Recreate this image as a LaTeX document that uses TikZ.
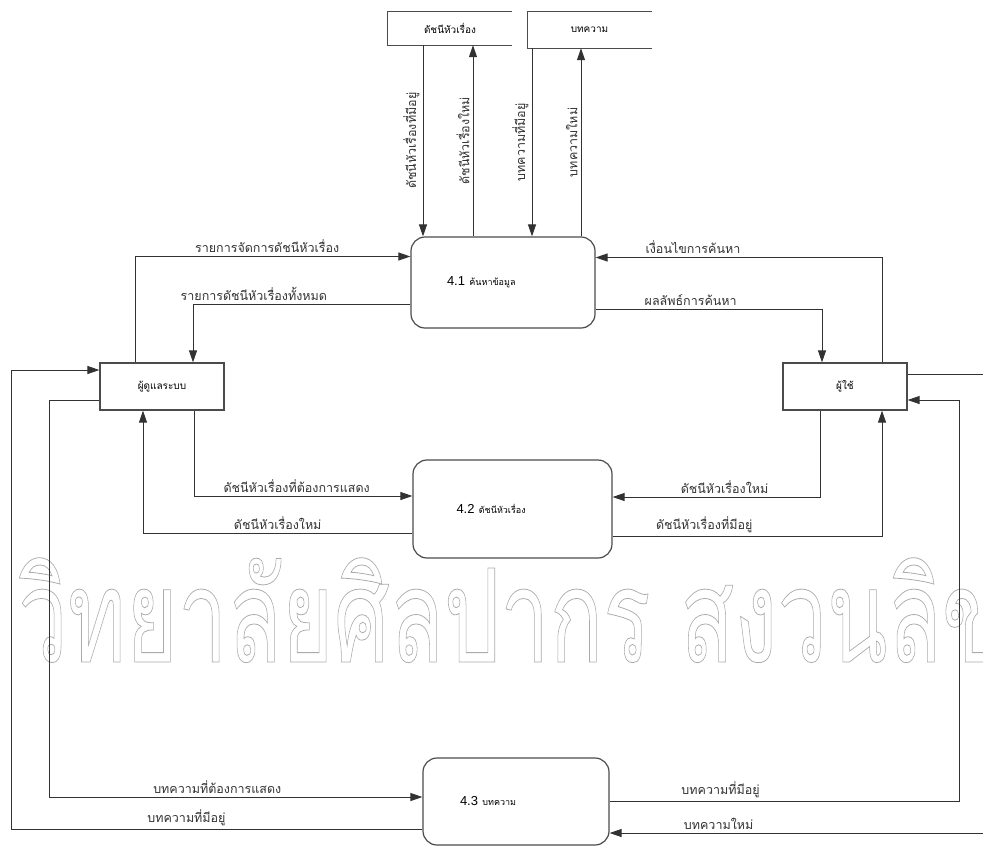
\documentclass[tikz,border=0pt]{standalone}
\usepackage{fontspec}
\usepackage{xcolor}
\usepackage{tikz}
\setmainfont{Liberation Sans}
\newfontfamily\thaifont[Script=Thai]{Loma}
\usetikzlibrary{arrows.meta, positioning, calc}
\definecolor{flowColor}{RGB}{50, 50, 50}
\definecolor{boxColor}{RGB}{75, 75, 75}
\definecolor{markColor}{RGB}{170, 170, 170}
\newcommand{\thaismall}{\thaifont\fontsize{9}{11}\selectfont}

\begin{document}
\begin{tikzpicture}[
    x=1pt, y=-1pt,
    process/.style={
        rectangle,
        draw=boxColor,
        line width=1.2pt,
        rounded corners=14pt,
        minimum width=184pt,
        minimum height=90pt,
        text width=112pt,
        align=left,
        font=\fontsize{13}{15}\selectfont
    },
    entity/.style={
        rectangle,
        draw=boxColor,
        line width=1.2pt,
        minimum width=124pt,
        minimum height=47pt,
        font=\thaifont\fontsize{10}{12}\selectfont
    },
    store/.style={
        rectangle,
        minimum width=124pt,
        minimum height=33pt,
        font=\thaifont\fontsize{10}{12}\selectfont
    },
    flowtext/.style={font=\thaifont\fontsize{12.5}{14}\selectfont, inner sep=3pt, text=flowColor},
    watermark/.style={font=\thaifont\fontsize{130}{130}\selectfont, text=markColor, xscale=0.68, inner sep=0pt},
    flow/.style={-{Triangle[length=12pt,width=8pt]}, flowColor, line width=1pt}
]
    \useasboundingbox (0,0) rectangle (983,847);

    % Watermark
    \node[watermark, anchor=base west] (mark) at (18,662)
        {\special{pdf:literal direct 1 Tr 0.8 w}วิทยาลัยศิลปากร สงวนลิขสิทธิ์\special{pdf:literal direct 0 Tr}};

    % Data stores
    \node[store] (idx) at (450,28.5) {ดัชนีหัวเรื่อง};
    \node[store, minimum height=36pt] (art) at (589.5,30) {บทความ};
    \foreach \s in {idx, art} {
        \draw[boxColor, line width=1.2pt] (\s.north east) -- (\s.north west) -- (\s.south west) -- (\s.south east);
    }

    % Processes
    \node[process, minimum height=91pt] (p41) at (503,282.5) {4.1 {\thaismall ค้นหาข้อมูล}};
    \node[process, minimum width=199pt, minimum height=98pt] (p42) at (512.5,509) {4.2 {\thaismall ดัชนีหัวเรื่อง}};
    \node[process, minimum width=186pt, minimum height=87pt] (p43) at (516,801.5) {4.3 {\thaismall บทความ}};

    % Entities
    \node[entity] (admin) at (162,386.5) {ผู้ดูแลระบบ};
    \node[entity] (user) at (845,386.5) {ผู้ใช้};

    % Stores <-> 4.1
    \draw[flow] ([xshift=-27pt]idx.south) -- ([xshift=-27pt]idx.south |- p41.north)
        node[flowtext, rotate=90, anchor=south, midway] {ดัชนีหัวเรื่องที่มีอยู่};
    \draw[flow] ([xshift=23pt]idx.south |- p41.north) -- ([xshift=23pt]idx.south)
        node[flowtext, rotate=90, anchor=south, midway] {ดัชนีหัวเรื่องใหม่};
    \draw[flow] ([xshift=-57.5pt]art.south) -- ([xshift=-57.5pt]art.south |- p41.north)
        node[flowtext, rotate=90, anchor=south, midway] {บทความที่มีอยู่};
    \draw[flow] ([xshift=-8.5pt]art.south |- p41.north) -- ([xshift=-8.5pt]art.south)
        node[flowtext, rotate=90, anchor=south, midway] {บทความใหม่};

    % Admin <-> 4.1
    \draw[flow] ([xshift=-27pt]admin.north) |- ([yshift=26pt]p41.west)
        node[flowtext, above, pos=0.74] {รายการจัดการดัชนีหัวเรื่อง};
    \draw[flow] ([yshift=-22pt]p41.west) -| ([xshift=31pt]admin.north)
        node[flowtext, above, pos=0.36] {รายการดัชนีหัวเรื่องทั้งหมด};

    % User <-> 4.1
    \draw[flow] ([xshift=37pt]user.north) |- ([yshift=25pt]p41.east)
        node[flowtext, above, pos=0.83] {เงื่อนไขการค้นหา};
    \draw[flow] ([yshift=-27pt]p41.east) -| ([xshift=-23pt]user.north)
        node[flowtext, above, pos=0.21] {ผลลัพธ์การค้นหา};

    % Admin <-> 4.2
    \draw[flow] ([xshift=32pt]admin.south) |- ([yshift=13pt]p42.west)
        node[flowtext, above, pos=0.735] {ดัชนีหัวเรื่องที่ต้องการแสดง};
    \draw[flow] ([yshift=-24pt]p42.west) -| ([xshift=-19pt]admin.south)
        node[flowtext, above, pos=0.25] {ดัชนีหัวเรื่องใหม่};

    % User <-> 4.2
    \draw[flow] ([xshift=-25pt]user.south) |- ([yshift=12pt]p42.east)
        node[flowtext, above, pos=0.73] {ดัชนีหัวเรื่องใหม่};
    \draw[flow] ([yshift=-27pt]p42.east) -| ([xshift=37pt]user.south)
        node[flowtext, above, pos=0.17] {ดัชนีหัวเรื่องที่มีอยู่};

    % Admin <-> 4.3
    \draw[flow] ([yshift=-13.5pt]admin.west) -- ++(-50pt,0) |- ([yshift=4.5pt]p43.west)
        node[flowtext, above, pos=0.725] {บทความที่ต้องการแสดง};
    \draw[flow] ([yshift=-27.5pt]p43.west) -| ([xshift=-88pt, yshift=16.5pt]admin.west)
        node[flowtext, above, pos=0.287] {บทความที่มีอยู่}
        -- ([yshift=16.5pt]admin.west);

    % User <-> 4.3
    \draw[flow] (p43.east) -- node[flowtext, above, pos=0.317] {บทความที่มีอยู่}
        ++(350pt,0) |- ([yshift=-13.5pt]user.east);
    \draw[flow] ([yshift=12.5pt]user.east) -- ++(100pt,0) |- ([yshift=-31.5pt]p43.east)
        node[flowtext, above, pos=0.863] {บทความใหม่};
\end{tikzpicture}
\end{document}
